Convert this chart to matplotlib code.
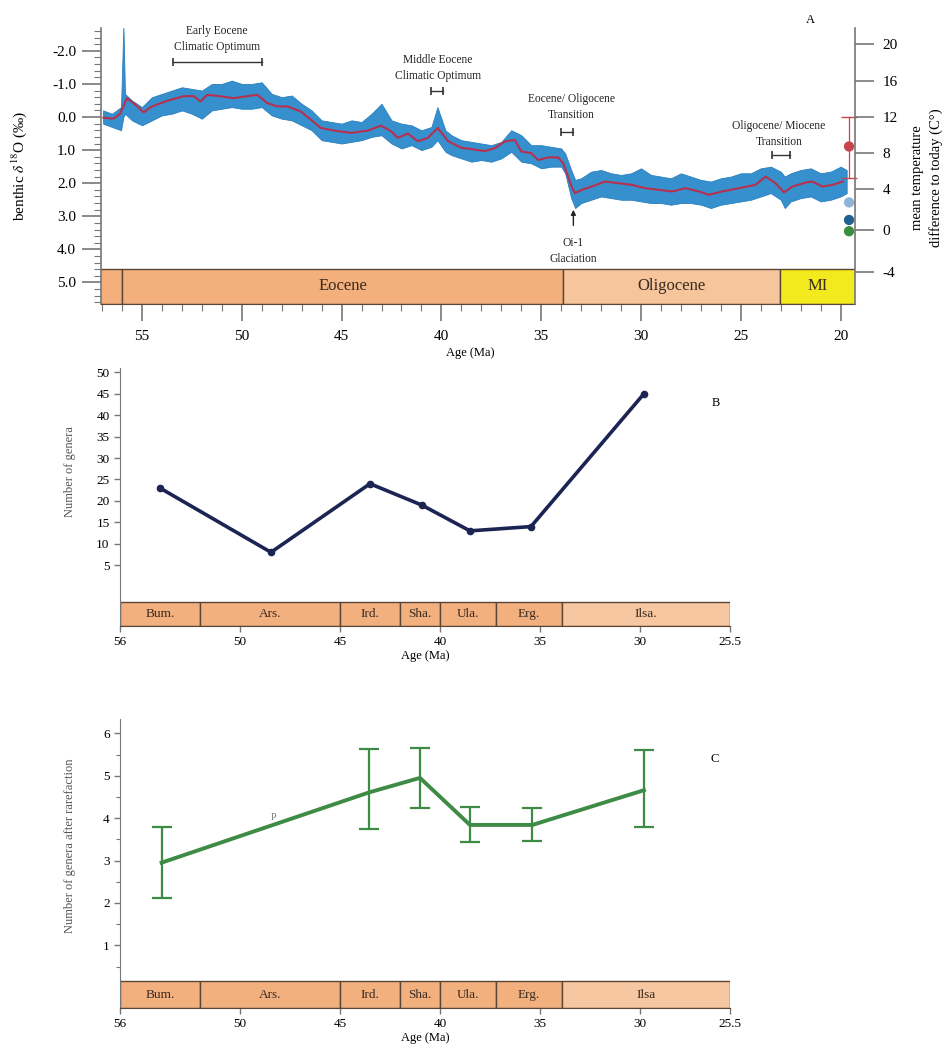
"""Eocene-Oligocene benthic d18O record (A), genus counts (B) and rarefied genus counts (C)."""
import matplotlib
matplotlib.use("Agg")
import matplotlib.pyplot as plt
from matplotlib.patches import Rectangle
from matplotlib.ticker import MultipleLocator, FixedLocator, FormatStrFormatter

plt.rcParams["font.family"] = ["Liberation Serif", "DejaVu Serif"]
plt.rcParams["mathtext.fontset"] = "stix"
plt.rcParams["axes.unicode_minus"] = False

# ---- panel A: benthic d18O ----
env_age = [56.95, 56.5, 56.05, 55.93, 55.85, 55.5, 55.0, 54.5, 54.0, 53.5, 53.0, 52.5,
           52.0, 51.5, 51.0, 50.5, 50.0, 49.5, 49.0, 48.5, 48.0, 47.5, 47.0, 46.5, 46.0,
           45.5, 45.0, 44.5, 44.0, 43.5, 43.0, 42.5, 42.0, 41.5, 41.0, 40.5, 40.2, 39.8,
           39.5, 39.0, 38.5, 38.0, 37.5, 37.0, 36.5, 36.0, 35.5, 35.0, 34.5, 34.0, 33.8,
           33.5, 33.3, 33.0, 32.5, 32.0, 31.5, 31.0, 30.5, 30.0, 29.5, 29.0, 28.5, 28.0,
           27.5, 27.0, 26.5, 26.0, 25.5, 25.0, 24.5, 24.0, 23.5, 23.0, 22.8, 22.5, 22.0,
           21.5, 21.0, 20.5, 20.0, 19.7]
env_top = [-0.2, -0.1, -0.3, -2.75, -0.7, -0.5, -0.3, -0.6, -0.7, -0.8, -0.9, -0.85,
           -0.8, -1.0, -1.0, -1.1, -1.0, -1.0, -1.05, -0.7, -0.6, -0.65, -0.4, -0.2, 0.1,
           0.15, 0.2, 0.1, 0.15, -0.1, -0.4, 0.1, 0.2, 0.25, 0.4, 0.3, -0.3, 0.4,
           0.55, 0.7, 0.75, 0.8, 0.85, 0.75, 0.4, 0.55, 0.85, 0.85, 0.9, 0.95, 1.1,
           1.6, 1.9, 1.85, 1.65, 1.6, 1.7, 1.75, 1.7, 1.55, 1.75, 1.8, 1.85, 1.7,
           1.8, 1.9, 1.95, 1.85, 1.8, 1.7, 1.7, 1.55, 1.5, 1.65, 1.8, 1.7, 1.6,
           1.55, 1.7, 1.65, 1.5, 1.6]
env_bottom = [0.2, 0.3, 0.4, 0.0, -0.1, 0.1, 0.25, 0.1, -0.05, -0.1, -0.2, -0.1,
              0.05, -0.2, -0.25, -0.3, -0.25, -0.25, -0.3, -0.05, 0.05, 0.1, 0.25, 0.4, 0.7,
              0.75, 0.8, 0.75, 0.7, 0.6, 0.55, 0.8, 0.95, 0.85, 1.0, 0.9, 0.7, 1.05,
              1.15, 1.25, 1.35, 1.3, 1.35, 1.25, 1.05, 1.35, 1.4, 1.55, 1.5, 1.5, 1.7,
              2.45, 2.75, 2.6, 2.5, 2.4, 2.45, 2.5, 2.5, 2.55, 2.6, 2.6, 2.65, 2.6,
              2.6, 2.65, 2.75, 2.65, 2.6, 2.55, 2.5, 2.4, 2.3, 2.5, 2.75, 2.55, 2.45,
              2.4, 2.55, 2.5, 2.4, 2.3]

smooth_age = [56.93, 56.43, 56.1, 55.75, 55.34, 54.92, 54.5, 53.74, 52.9, 52.4, 52.07,
              51.73, 51.23, 50.4, 49.72, 49.22, 48.72, 48.22, 47.71, 47.05, 46.54, 46.04,
              45.37, 44.53, 43.69, 43.03, 42.52, 42.19, 41.68, 41.18, 40.68, 40.18, 39.67,
              39.0, 38.5, 37.83, 37.33, 36.83, 36.33, 36.0, 35.5, 35.15, 34.65, 34.15,
              33.9, 33.48, 33.31, 32.97, 32.47, 31.8, 31.13, 30.46, 29.8, 29.12, 28.45,
              27.78, 27.1, 26.6, 25.94, 25.1, 24.27, 23.76, 23.26, 22.84, 22.42, 21.75,
              21.42, 20.91, 20.41, 19.9]
smooth_d18o = [0.02, 0.05, -0.1, -0.57, -0.38, -0.14, -0.32, -0.49, -0.63, -0.63, -0.47,
               -0.67, -0.64, -0.57, -0.63, -0.67, -0.42, -0.32, -0.32, -0.17, 0.08, 0.33,
               0.41, 0.48, 0.41, 0.26, 0.43, 0.63, 0.5, 0.73, 0.63, 0.33, 0.73,
               0.93, 0.97, 1.03, 0.94, 0.74, 0.69, 1.04, 1.09, 1.3, 1.22, 1.22,
               1.4, 2.1, 2.3, 2.2, 2.1, 1.95, 2.0, 2.05, 2.15, 2.2, 2.25,
               2.15, 2.25, 2.35, 2.25, 2.15, 2.05, 1.8, 2.0, 2.28, 2.1, 1.98,
               1.95, 2.1, 2.05, 1.95]

# present-day reference points at the right edge
ref_age = 19.58
ref_d18o = [0.89, 2.58, 3.11, 3.45]
ref_colors = ["#c9434b", "#90b4d6", "#21608f", "#3a8f3e"]
ref_err_lo, ref_err_hi = 0.0, 1.83

# temperature axis: labels and where they sit on the d18O scale
temp_labels = [20, 16, 12, 8, 4, 0, -4]
temp_at_d18o = [-2.21, -1.08, 0.0, 1.09, 2.18, 3.42, 4.68]

epoch_names = ["", "Eocene", "Oligocene", "MI"]
epoch_old = [60.0, 56.0, 33.9, 23.03]
epoch_young = [56.0, 33.9, 23.03, 19.0]
epoch_colors = ["#f3b07c", "#f3b07c", "#f6c59b", "#f2ea1c"]

events = ["Early Eocene\nClimatic Optimum", "Middle Eocene\nClimatic Optimum",
          "Eocene/ Oligocene\nTransition", "Oligocene/ Miocene\nTransition"]
event_old = [53.46, 40.5, 34.02, 23.46]
event_young = [48.97, 39.93, 33.43, 22.54]
event_bar_y = [-1.65, -0.78, 0.44, 1.16]
event_text_x = [51.23, 40.18, 33.48, 23.09]
event_text_y = [-2.35, -1.49, -0.3, 0.5]

# ---- panels B and C: Iranian stages ----
stage_names_b = ["Bum.", "Ars.", "Ird.", "Sha.", "Ula.", "Erg.", "Ilsa."]
stage_names_c = ["Bum.", "Ars.", "Ird.", "Sha.", "Ula.", "Erg.", "Ilsa"]
stage_old = [56.0, 52.0, 45.0, 42.0, 40.0, 37.2, 33.9]
stage_young = [52.0, 45.0, 42.0, 40.0, 37.2, 33.9, 25.5]
stage_colors = ["#f2b07f"] * 6 + ["#f6c7a0"]

b_age = [54.0, 48.45, 43.5, 40.9, 38.5, 35.45, 29.8]
b_genera = [23, 8, 24, 19, 13, 14, 45]

c_age = [53.92, 43.53, 41.0, 38.5, 35.38, 29.8]
c_mean = [2.95, 4.61, 4.95, 3.84, 3.84, 4.66]
c_upper = [3.80, 5.63, 5.65, 4.26, 4.24, 5.62]
c_lower = [2.12, 3.75, 4.24, 3.43, 3.45, 3.79]

bc_ticks = [56, 50, 45, 40, 35, 30, 25.5]
bc_ticklabels = ["56", "50", "45", "40", "35", "30", "25.5"]

EDGE = "#5a4636"
GRAY = "#777777"


def draw_stages(ax, names, old, young, colors, y0, y1, xlim, fontsize):
    lo, hi = min(xlim), max(xlim)
    for name, o, yg, c in zip(names, old, young, colors):
        ax.add_patch(Rectangle((yg, y0), o - yg, y1 - y0, facecolor=c,
                               edgecolor=EDGE, lw=1.0, zorder=1))
        if name:
            cx = (min(o, hi) + max(yg, lo)) / 2
            ax.text(cx, (y0 + y1) / 2, name, ha="center", va="center",
                    fontsize=fontsize, color="#3a2a20", zorder=2)


fig = plt.figure(figsize=(9.47, 10.53), dpi=100)

# ================= A =================
axA = fig.add_axes([0.1067, 0.7113, 0.7962, 0.2621])
xlimA = (57.05, 19.28)
axA.set_xlim(*xlimA)
axA.set_ylim(5.65, -2.69)

# blue record drawn as the band between the read envelopes, smoothed curve on top
axA.fill_between(env_age, env_top, env_bottom, facecolor="#3590cd", edgecolor="#2a7fbd",
                 lw=0.6, zorder=2)
axA.plot(smooth_age, smooth_d18o, color="#b8304e", lw=1.5, zorder=3)

draw_stages(axA, epoch_names, epoch_old, epoch_young, epoch_colors, 4.58, 5.65,
            xlimA, 12)

for txt, o, yg, by, tx, ty in zip(events, event_old, event_young, event_bar_y,
                                  event_text_x, event_text_y):
    axA.plot([o, yg], [by, by], color="#333333", lw=1.0, marker="|", ms=6, mew=1.2,
             zorder=4)
    axA.text(tx, ty, txt, ha="center", va="center", fontsize=8.3, linespacing=1.45,
             color="#222222")

axA.annotate("", xy=(33.39, 2.72), xytext=(33.39, 3.36),
             arrowprops=dict(arrowstyle="-|>", color="#222222", lw=1.0,
                             mutation_scale=7))
axA.text(33.39, 4.05, "Oi-1\nGlaciation", ha="center", va="center", fontsize=8.3,
         linespacing=1.45, color="#222222")

axA.errorbar([ref_age], [ref_d18o[0]],
             yerr=[[ref_d18o[0] - ref_err_lo], [ref_err_hi - ref_d18o[0]]],
             fmt="none", ecolor="#c9434b", elinewidth=0.9, capsize=6, zorder=5,
             clip_on=False)
axA.scatter([ref_age] * len(ref_d18o), ref_d18o, s=55, c=ref_colors, zorder=6,
            clip_on=False, edgecolors="none")

axA.text(21.52, -2.93, "A", ha="center", va="center", fontsize=9)

axA.xaxis.set_major_locator(MultipleLocator(5))
axA.xaxis.set_minor_locator(MultipleLocator(1))
axA.yaxis.set_major_locator(FixedLocator([-2, -1, 0, 1, 2, 3, 4, 5]))
axA.yaxis.set_major_formatter(FormatStrFormatter("%.1f"))
axA.yaxis.set_minor_locator(MultipleLocator(0.2))
axA.tick_params(axis="y", which="major", length=14, width=1.2, color=GRAY,
                labelsize=11, pad=4)
axA.tick_params(axis="y", which="minor", length=5, width=0.8, color=GRAY)
axA.tick_params(axis="x", which="major", length=12, width=1.2, color=GRAY,
                labelsize=11, pad=7)
axA.tick_params(axis="x", which="minor", length=5, width=0.8, color=GRAY)
for side in ("top", "right"):
    axA.spines[side].set_visible(False)
axA.spines["left"].set_color(GRAY)
axA.spines["left"].set_linewidth(1.2)
axA.spines["bottom"].set_color(EDGE)
axA.set_xlabel("Age (Ma)", fontsize=9, labelpad=1)
axA.xaxis.set_label_coords(0.49, -0.155)
axA.set_ylabel("benthic $\\delta^{18}$O (‰)", fontsize=11)
axA.yaxis.set_label_coords(-0.095, 0.5)

axT = axA.twinx()
axT.set_ylim(axA.get_ylim())
axT.set_yticks(temp_at_d18o)
axT.set_yticklabels([str(t) for t in temp_labels])
axT.tick_params(axis="y", length=14, width=1.2, color=GRAY, labelsize=11, pad=6)
for side in ("top", "left", "bottom"):
    axT.spines[side].set_visible(False)
axT.spines["right"].set_color(GRAY)
axT.spines["right"].set_linewidth(1.2)
fig.text(927 / 947, 1 - 178 / 1053, "mean temperature\ndifference to today (C°)",
         fontsize=10.5, rotation=90, linespacing=1.4, ha="center", va="center")


def style_bc(ax, ylim, ylabel, label_coords):
    ax.set_xlim(56, 25.5)
    ax.set_ylim(*ylim)
    ax.set_xticks(bc_ticks)
    ax.set_xticklabels(bc_ticklabels)
    ax.tick_params(axis="both", which="major", length=4, width=1.0, color=GRAY,
                   labelsize=9.5)
    ax.tick_params(axis="y", which="minor", length=3, width=0.8, color=GRAY)
    for side in ("top", "right"):
        ax.spines[side].set_visible(False)
    ax.spines["left"].set_color(GRAY)
    ax.spines["bottom"].set_color(EDGE)
    ax.set_xlabel("Age (Ma)", fontsize=9, labelpad=1)
    ax.set_ylabel(ylabel, fontsize=9, color="#555555")
    ax.yaxis.set_label_coords(*label_coords)


# ================= B =================
axB = fig.add_axes([0.1267, 0.4055, 0.6441, 0.2450])
draw_stages(axB, stage_names_b, stage_old, stage_young, stage_colors, -9.2, -3.62,
            (56, 25.5), 9.5)
axB.plot(b_age, b_genera, color="#1b2453", lw=2.6, marker="o", ms=4.5, zorder=3)
axB.set_yticks(range(5, 51, 5))
style_bc(axB, (-9.2, 51), "Number of genera", (-0.072, 0.6))
axB.text(26.2, 42.85, "B", ha="center", va="center", fontsize=9)

# ================= C =================
axC = fig.add_axes([0.1267, 0.0427, 0.6441, 0.2745])
draw_stages(axC, stage_names_c, stage_old, stage_young, stage_colors, -0.48, 0.15,
            (56, 25.5), 9.5)
c_err = [[m - lo for m, lo in zip(c_mean, c_lower)],
         [hi - m for m, hi in zip(c_mean, c_upper)]]
axC.errorbar(c_age, c_mean, yerr=c_err, color="#3d8b45", lw=2.8, elinewidth=1.6,
             capsize=7, capthick=1.6, zorder=3)
axC.text(48.34, 4.02, "P", ha="center", va="center", fontsize=7, color="#777777")
axC.set_yticks([1, 2, 3, 4, 5, 6])
axC.yaxis.set_minor_locator(FixedLocator([0.5, 1.5, 2.5, 3.5, 4.5, 5.5]))
style_bc(axC, (-0.48, 6.34), "Number of genera after rarefaction", (-0.072, 0.56))
axC.text(26.25, 5.39, "C", ha="center", va="center", fontsize=9)

fig.savefig("out.png", dpi=100)
plt.close(fig)
print("wrote out.png")
